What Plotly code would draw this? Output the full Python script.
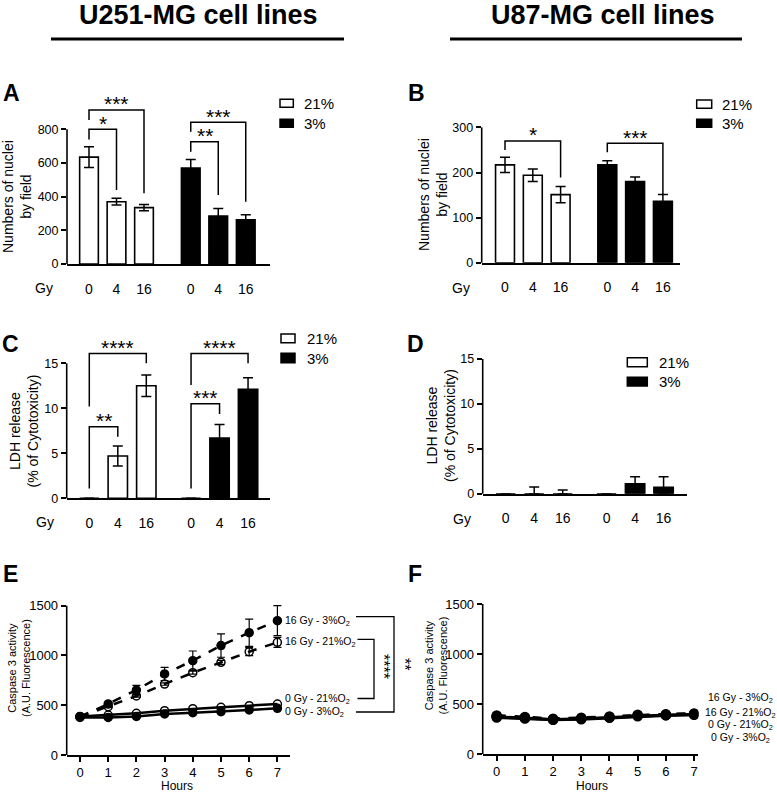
import plotly.graph_objects as go

W, H = 777, 792
FONT = "Liberation Sans, Arial, Helvetica, sans-serif"

# ---------------- data ----------------
doses = ['0', '4', '16']
oxygen = ['21%', '3%']

# A: U251-MG nuclei
a_21 = [635, 370, 335]
a_21_err = [62, 20, 18]
a_3 = [570, 285, 262]
a_3_err = [50, 45, 30]
# B: U87-MG nuclei
b_21 = [217, 194, 151]
b_21_err = [17, 14, 18]
b_3 = [217, 180, 136]
b_3_err = [9, 10, 15]
# C: U251-MG LDH
c_21 = [0, 4.7, 12.5]
c_21_err = [0, 1.1, 1.2]
c_3 = [0, 6.7, 12.1]
c_3_err = [0, 1.5, 1.3]
# D: U87-MG LDH
d_21 = [0, 0, 0]
d_21_err = [0, 0.75, 0.4]
d_3 = [0, 1.1, 0.7]
d_3_err = [0, 0.8, 1.2]

# significance brackets: (left idx, right idx, left leg low, top, right leg low, label)
a_sig = [(0, 1, 740, 800, 440, '*'), (0, 2, 855, 915, 420, '***'),
         (3, 4, 667, 726, 410, '**'), (3, 5, 786, 842, 370, '***')]
b_sig = [(0, 2, 250, 270, 189, '*'), (3, 5, 245, 265, 152, '***')]
c_sig = [(0, 2, 10.2, 16.1, 15.0, '****'), (0, 1, 1.1, 7.96, 6.84, '**'),
         (3, 5, 12.6, 16.1, 15.0, '****'), (3, 4, 1.1, 10.5, 9.37, '***')]
d_sig = []

hours = [0, 1, 2, 3, 4, 5, 6, 7]
series_labels = ['16 Gy - 3%O<sub>2</sub>', '16 Gy - 21%O<sub>2</sub>',
                 '0 Gy - 21%O<sub>2</sub>', '0 Gy - 3%O<sub>2</sub>']
# E: U251-MG caspase 3
e_16_3 = [385, 513, 653, 814, 948, 1099, 1229, 1350]
e_16_3_err = [10, 15, 47, 67, 97, 117, 137, 150]
e_16_21 = [385, 486, 593, 713, 827, 931, 1038, 1132]
e_16_21_err = [10, 10, 12, 12, 15, 20, 40, 50]
e_0_21 = [388, 402, 419, 445, 465, 479, 496, 512]
e_0_3 = [378, 378, 388, 412, 425, 435, 452, 469]
# F: U87-MG caspase 3
f_16_3 = [385, 370, 352, 362, 375, 392, 398, 405]
f_16_21 = [378, 365, 348, 358, 370, 388, 394, 400]
f_0_21 = [372, 360, 345, 352, 366, 382, 390, 396]
f_0_3 = [365, 355, 342, 348, 362, 378, 386, 392]

# ---------------- helpers ----------------
fig = go.Figure()
shapes = []
annotations = []
axes = {}


def X(p):
    return p / W


def Y(p):
    return 1 - p / H


def text(x, y, t, size, xanchor='center', yanchor='middle', angle=0):
    annotations.append(dict(xref='paper', yref='paper', x=X(x), y=Y(y), text=t,
                            showarrow=False, xanchor=xanchor, yanchor=yanchor,
                            textangle=angle, font=dict(family=FONT, size=size, color='black')))


def axnames(n):
    return ('x' if n == 1 else f'x{n}'), ('y' if n == 1 else f'y{n}')


def rect(x0, y0, x1, y1, fill):
    shapes.append(dict(type='rect', xref='paper', yref='paper', x0=X(x0), x1=X(x1),
                       y0=Y(y1), y1=Y(y0), fillcolor=fill, line=dict(color='black', width=1.5)))


def bar_panel(n, cfg, v21, e21, v3, e3, sig):
    xa, ya = axnames(n)
    gap = cfg['gap']
    pos21 = [i for i in range(len(doses))]
    pos3 = [gap + i for i in range(len(doses))]
    for pos, vals, errs, col in ((pos21, v21, e21, 'white'), (pos3, v3, e3, 'black')):
        fig.add_trace(go.Bar(
            x=pos, y=vals, width=0.68, xaxis=xa, yaxis=ya, showlegend=False,
            marker=dict(color=col, line=dict(color='black', width=1.6)),
            error_y=dict(type='data', symmetric=False, array=errs,
                         arrayminus=[min(e, v) for e, v in zip(errs, vals)],
                         color='black', thickness=1.5, width=5)))
    xs, xe, c0, u = cfg['xs'], cfg['xe'], cfg['c0'], cfg['u']
    y0, k, R, ytop = cfg['y0'], cfg['k'], cfg['R'], cfg['yticks'][-1]
    kx = 'xaxis' if n == 1 else f'xaxis{n}'
    ky = 'yaxis' if n == 1 else f'yaxis{n}'
    axes[kx] = dict(domain=[X(xs), X(xe)], range=[(xs - c0) / u, (xe - c0) / u], anchor=ya,
                    tickvals=pos21 + pos3, ticktext=doses * 2, ticks='', showline=True,
                    linecolor='black', linewidth=1.6, showgrid=False, zeroline=False,
                    automargin=False,
                    tickfont=dict(family=FONT, size=14, color='black'), ticklabelstandoff=11)
    axes[ky] = dict(domain=[Y(y0), Y(y0 - R * k)], range=[0, R], anchor=xa,
                    tickvals=cfg['yticks'], ticks='outside', ticklen=5, tickwidth=1.6,
                    tickcolor='black', showline=False, showgrid=False, zeroline=False,
                    automargin=False,
                    tickfont=dict(family=FONT, size=12.5, color='black'))
    shapes.append(dict(type='line', xref=f'{xa} domain', yref=f'{ya} domain', x0=0, x1=0,
                       y0=0, y1=ytop / R, line=dict(color='black', width=1.6)))
    allpos = pos21 + pos3
    for li, ri, lo, top, ro, lab in sig:
        xl, xr = allpos[li], allpos[ri]
        shapes.append(dict(type='path', xref=xa, yref=ya,
                           path=f'M {xl},{lo} L {xl},{top} L {xr},{top} L {xr},{ro}',
                           line=dict(color='black', width=1.5)))
        annotations.append(dict(xref=xa, yref=ya, x=(xl + xr) / 2, y=top, text=lab,
                                showarrow=False, yanchor='middle', yshift=6,
                                font=dict(family=FONT, size=21, color='black')))


def line_panel(n, cfg, series, errs):
    xa, ya = axnames(n)
    styles = [('dash', 'circle'), ('dash', 'circle-open'), ('solid', 'circle-open'), ('solid', 'circle')]
    for vals, err, (dash, sym) in zip(series, errs, styles):
        tr = dict(x=hours, y=vals, xaxis=xa, yaxis=ya, mode='lines+markers', showlegend=False,
                  line=dict(color='black', width=cfg['lw'], dash=dash),
                  marker=dict(symbol=sym, size=cfg['ms'], color='black',
                              line=dict(color='black', width=1.5)))
        if err is not None:
            tr['error_y'] = dict(type='data', array=err, color='black', thickness=1.2, width=4)
        fig.add_trace(go.Scatter(**tr))
    xs, xe, c0, u = cfg['xs'], cfg['xe'], cfg['c0'], cfg['u']
    y0, k, R = cfg['y0'], cfg['k'], cfg['R']
    yt = [0, 500, 1000, 1500]
    axes[f'xaxis{n}'] = dict(domain=[X(xs), X(xe)], range=[(xs - c0) / u, (xe - c0) / u], anchor=ya,
                             tickvals=hours, ticks='outside', ticklen=5, tickwidth=1.5,
                             tickcolor='black', showline=True, linecolor='black', linewidth=1.6,
                             showgrid=False, zeroline=False, automargin=False,
                             tickfont=dict(family=FONT, size=13, color='black'))
    axes[f'yaxis{n}'] = dict(domain=[Y(y0), Y(y0 - R * k)], range=[0, R], anchor=xa,
                             tickvals=yt, ticks='outside', ticklen=5, tickwidth=1.5,
                             tickcolor='black', showline=False, showgrid=False, zeroline=False,
                             automargin=False,
                             tickfont=dict(family=FONT, size=13, color='black'))
    shapes.append(dict(type='line', xref=f'{xa} domain', yref=f'{ya} domain', x0=0, x1=0,
                       y0=0, y1=yt[-1] / R, line=dict(color='black', width=1.6)))


# ---------------- panels ----------------
bar_panel(1, dict(xs=67, xe=270, c0=89, u=27.5, gap=3.7, y0=264, k=134.7 / 800, R=960,
                  yticks=[0, 200, 400, 600, 800]), a_21, a_21_err, a_3, a_3_err, a_sig)
bar_panel(2, dict(xs=481.7, xe=680, c0=505, u=27.8, gap=3.68, y0=262.7, k=135.3 / 300, R=310,
                  yticks=[0, 100, 200, 300]), b_21, b_21_err, b_3, b_3_err, b_sig)
bar_panel(3, dict(xs=66.7, xe=270, c0=89.3, u=28.5, gap=3.57, y0=498.3, k=9.0, R=17.6,
                  yticks=[0, 5, 10, 15]), c_21, c_21_err, c_3, c_3_err, c_sig)
bar_panel(4, dict(xs=482.7, xe=686.7, c0=505.7, u=28.5, gap=3.54, y0=493.7, k=8.98, R=15.5,
                  yticks=[0, 5, 10, 15]), d_21, d_21_err, d_3, d_3_err, d_sig)

line_panel(5, dict(xs=66.7, xe=290, c0=80, u=28.2, y0=755, k=149.3 / 1500, R=1540, lw=2.5, ms=8),
           [e_16_3, e_16_21, e_0_21, e_0_3], [e_16_3_err, e_16_21_err, None, None])
line_panel(6, dict(xs=482.7, xe=698.3, c0=496.7, u=28.19, y0=754, k=0.1, R=1540, lw=3, ms=9),
           [f_16_3, f_16_21, f_0_21, f_0_3], [None, None, None, None])

# ---------------- headers ----------------
text(198, 15, '<b>U251-MG cell lines</b>', 27)
text(602.5, 15, '<b>U87-MG cell lines</b>', 27)
for x0, x1 in ((51, 344), (450, 742)):
    shapes.append(dict(type='line', xref='paper', yref='paper', x0=X(x0), x1=X(x1),
                       y0=Y(39), y1=Y(39), line=dict(color='black', width=3)))

# panel letters
for lab, x, y in (('A', 11, 93), ('B', 416, 93), ('C', 10, 344), ('D', 415, 344),
                  ('E', 10, 574), ('F', 415, 574)):
    text(x, y, f'<b>{lab}</b>', 23)

# y titles
text(17, 197, 'Numbers of nuclei<br>by field', 14, angle=-90)
text(433, 195, 'Numbers of nuclei<br>by field', 14, angle=-90)
text(23.5, 431, 'LDH release<br>(% of Cytotoxicity)', 14, angle=-90)
text(441, 426, 'LDH release<br>(% of Cytotoxicity)', 14, angle=-90)
text(19, 668, 'Caspase 3 activity<br>(A.U. Fluorescence)', 11, angle=-90)
text(435.5, 665, 'Caspase 3 activity<br>(A.U. Fluorescence)', 11, angle=-90)

# Gy labels
for x, y in ((44, 288), (460.5, 288.3), (44.7, 521.7), (462, 519)):
    text(x, y, 'Gy', 14)

# Hours
text(176.7, 786, 'Hours', 12)
text(591.7, 786, 'Hours', 12)

# legends for bar panels
for bx0, bx1, ya0, ya1, yb0, yb1, tx in (
        (280, 293.3, 99.3, 107.3, 119.3, 127.3, 301.7),
        (696.7, 711.7, 100, 108.3, 119.3, 127.3, 720),
        (281, 295, 334, 342.7, 353.3, 362.7, 305),
        (627.3, 647.3, 357.7, 366.7, 377.3, 386, 656.7)):
    rect(bx0, ya0, bx1, ya1, 'white')
    rect(bx0, yb0, bx1, yb1, 'black')
    text(tx, (ya0 + ya1) / 2, oxygen[0], 15, xanchor='left')
    text(tx, (yb0 + yb1) / 2, oxygen[1], 15, xanchor='left')

# E series labels and brackets
for lab, y in zip(series_labels, (620.7, 641.7, 699, 711.7)):
    text(283, y, lab, 10.5, xanchor='left')
shapes.append(dict(type='path', xref='paper', yref='paper',
                   path=f'M {X(356)},{Y(616.7)} L {X(394)},{Y(616.7)} L {X(394)},{Y(712)} L {X(356)},{Y(712)}',
                   line=dict(color='black', width=1.3)))
shapes.append(dict(type='path', xref='paper', yref='paper',
                   path=f'M {X(357.5)},{Y(639.3)} L {X(374)},{Y(639.3)} L {X(374)},{Y(698.5)} L {X(357.5)},{Y(698.5)}',
                   line=dict(color='black', width=1.3)))
text(384, 666, '****', 16, angle=90)
text(405, 664, '**', 16, angle=90)

# F series labels
for lab, y in zip(series_labels, (698.3, 712.7, 725, 738.3)):
    text(740.5, y, lab, 10.5)

fig.update_layout(width=W, height=H, margin=dict(l=0, r=0, t=0, b=0, pad=0, autoexpand=False),
                  paper_bgcolor='white', plot_bgcolor='white', showlegend=False,
                  barmode='overlay', shapes=shapes, annotations=annotations,
                  font=dict(family=FONT, color='black'), **axes)

page_fix = (
    "var de=document.documentElement, bd=document.body;"
    "de.style.margin='0'; de.style.padding='0'; de.style.overflow='hidden';"
    "bd.style.margin='0'; bd.style.padding='0'; bd.style.overflow='hidden';"
)
fig.write_html('out.html', config={'displayModeBar': False}, post_script=page_fix)
